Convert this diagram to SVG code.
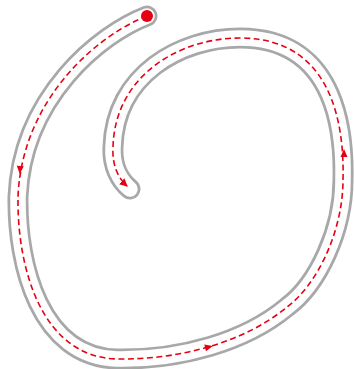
<svg xmlns="http://www.w3.org/2000/svg" width="354" height="369" viewBox="0 0 354 369">
<style>
.tube-out{fill:none;stroke:#a8a8a8;stroke-width:21;stroke-linecap:round;stroke-linejoin:round}
.tube-in{fill:none;stroke:#ffffff;stroke-width:15.5;stroke-linecap:round;stroke-linejoin:round}
.route{fill:none;stroke:#e60012;stroke-width:1.6;stroke-dasharray:6 3.5}
.head{fill:#e60012}
</style>
<defs>
<path id="track" d="M147,16 C100,34 22,97 18,197 C17,265 40,357 117,359 C180,360 245,342 287,307 C318,284 343,230 343,180 C344,140 340,38 240,38 C180,38 115,75 113,147 C112,165 119,180 130,189"/>
<marker id="arr" markerWidth="8" markerHeight="8" refX="7" refY="4" orient="auto" markerUnits="userSpaceOnUse">
<path d="M0,0 L8,4 L0,8 Z" class="head"/>
</marker>
</defs>
<g id="track-tube">
<use href="#track" class="tube-out"/>
<use href="#track" class="tube-in"/>
</g>
<g id="connectors">
<path class="route" d="M147,16 C100,34 22,97 18,197 C17,265 40,357 117,359 C180,360 245,342 287,307 C318,284 343,230 343,180 C344,140 340,38 240,38 C180,38 115,75 113,147 C112,165 118,178 127,186" marker-end="url(#arr)"/>
<polygon class="head" points="-4,-3.5 4,0 -4,3.5" transform="translate(20,170) rotate(94)"/>
<polygon class="head" points="-4,-3.5 4,0 -4,3.5" transform="translate(209,347) rotate(-14)"/>
<polygon class="head" points="-4,-3.5 4,0 -4,3.5" transform="translate(344,153) rotate(-90)"/>
</g>
<g id="start">
<circle cx="147" cy="16" r="6" fill="#e60012"/>
</g>
</svg>
